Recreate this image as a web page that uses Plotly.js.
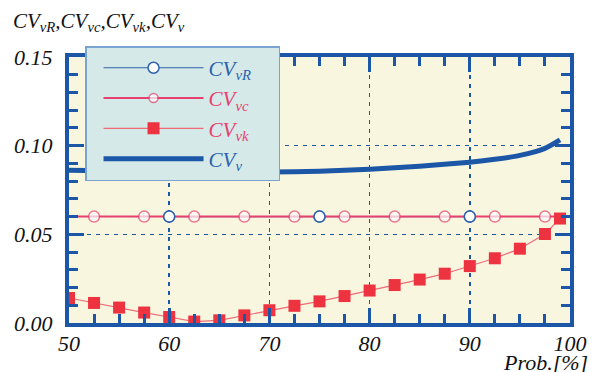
<!DOCTYPE html>
<html><head><meta charset="utf-8">
<script src="https://cdn.plot.ly/plotly-3.0.1.min.js"></script>
<style>
html,body{margin:0;padding:0;background:#fff}
#chart{width:593px;height:372px}
#chart svg text{font-family:"Liberation Serif",serif !important;}
</style>
</head><body>
<div id="chart"></div>
<script>
// ---- data ----
const probVR = [60, 75, 90];
const cvVR = [0.06, 0.06, 0.06];
const probVC = [50, 52.5, 57.5, 62.5, 67.5, 72.5, 77.5, 82.5, 87.5, 92.5, 97.5, 100];
const cvVC = [0.06, 0.06, 0.06, 0.06, 0.06, 0.06, 0.06, 0.06, 0.06, 0.06, 0.06, 0.06];
const probVK = [50, 52.5, 55, 57.5, 60, 62.5, 65, 67.5, 70, 72.5, 75, 77.5, 80, 82.5, 85, 87.5, 90, 92.5, 95, 97.5, 99];
const cvVK = [0.0141, 0.0113, 0.0087, 0.0059, 0.0034, 0.0008, 0.0015, 0.0043, 0.0072, 0.0097, 0.0122, 0.0152, 0.0183, 0.0214, 0.0245, 0.0278, 0.0321, 0.0365, 0.0419, 0.0502, 0.0589];
const probV = [50, 55, 60, 65, 70, 75, 80, 85, 90, 92.5, 95, 97.5, 99];
const cvV = [0.0861, 0.0857, 0.0853, 0.0851, 0.0851, 0.0856, 0.0867, 0.0884, 0.0907, 0.0923, 0.0945, 0.0985, 0.1033];
const xTicks = [50, 60, 70, 80, 90, 100];
const yTicks = [0.00, 0.05, 0.10, 0.15];
const seriesNames = ['CV<sub>vR</sub>', 'CV<sub>vc</sub>', 'CV<sub>vk</sub>', 'CV<sub>v</sub>'];

const BLUE = '#1b57a6';
const PINK = '#e8406e';
const RED = '#ee3340';
const SERIF = 'Liberation Serif';
const PAD = '<span style="font-size:30px">&nbsp;&nbsp;&nbsp;</span>';
const it = s => '<i>' + s + '</i>';

// marker only at interior points of the vc line
const vcSizes = probVC.map((p, i) => (i === 0 || i === probVC.length - 1) ? 0 : 11);

const traces = [
  {x: probVR, y: cvVR, mode: 'lines+markers', name: '<span style="color:#2e62ad">' + it(seriesNames[0]) + '</span>' + PAD,
   line: {color: '#2e62ad', width: 1.2},
   marker: {symbol: 'circle', size: 11, color: '#ffffff', line: {color: '#2e62ad', width: 1.5}}},
  {x: probVC, y: cvVC, mode: 'lines+markers', name: '<span style="color:' + PINK + '">' + it(seriesNames[1]) + '</span>' + PAD,
   line: {color: PINK, width: 2},
   marker: {symbol: 'circle', size: vcSizes, color: '#ffffff', line: {color: PINK, width: 1.5}}},
  {x: probVK, y: cvVK, mode: 'lines+markers', name: '<span style="color:' + PINK + '">' + it(seriesNames[2]) + '</span>' + PAD,
   line: {color: '#f06a78', width: 1.2},
   marker: {symbol: 'square', size: 12, color: RED, line: {width: 0}}},
  {x: probV, y: cvV, mode: 'lines', name: '<span style="color:#2e62ad">' + it(seriesNames[3]) + '</span>' + PAD,
   line: {color: BLUE, width: 5, shape: 'spline', smoothing: 0.6}},
  {x: probVR, y: cvVR, mode: 'markers', showlegend: false, hoverinfo: 'skip',
   marker: {symbol: 'circle', size: 11, color: '#ffffff', line: {color: '#2e62ad', width: 1.5}}}
];

const axisCommon = {
  showline: true, linecolor: BLUE, linewidth: 4, mirror: 'allticks',
  ticks: 'inside', tickcolor: BLUE, tickwidth: 3, ticklen: 15,
  showgrid: true, gridcolor: BLUE, gridwidth: 1.5, griddash: '4px,5px',
  zeroline: false,
  tickfont: {family: SERIF, size: 22, color: '#111'}
};

const layout = {
  width: 593, height: 372,
  margin: {l: 69, r: 23, t: 57, b: 49},
  paper_bgcolor: '#ffffff', plot_bgcolor: '#f8f6de',
  showlegend: true,
  font: {family: SERIF},
  xaxis: Object.assign({}, axisCommon, {
    range: [50, 100], tickmode: 'array', tickvals: xTicks, ticktext: xTicks.map(v => it(String(v))),
    minor: {dtick: 2.5, ticks: 'inside', ticklen: 9, tickwidth: 3, tickcolor: BLUE, showgrid: false},
    ticklabelstandoff: -2
  }),
  yaxis: Object.assign({}, axisCommon, {
    range: [0, 0.15], tickmode: 'array', tickvals: yTicks, ticktext: yTicks.map(v => it(v.toFixed(2))),
    minor: {dtick: 0.01, ticks: 'inside', ticklen: 9, tickwidth: 3, tickcolor: BLUE, showgrid: false},
    ticklabelstandoff: 8
  }),
  legend: {
    x: 0.032, y: 1.041, xanchor: 'left', yanchor: 'top',
    bgcolor: '#d5e9e8', bordercolor: '#7aa3cf', borderwidth: 1.5,
    font: {family: SERIF, size: 21},
    itemwidth: 100, indentation: 12
  },
  annotations: [
    {xref: 'paper', yref: 'paper', x: -0.116, y: 1.13, xanchor: 'left', yanchor: 'middle', showarrow: false,
     text: it('CV<sub>vR</sub>,CV<sub>vc</sub>,CV<sub>vk</sub>,CV<sub>v</sub>'),
     font: {family: SERIF, size: 21, color: '#111'}},
    {xref: 'paper', yref: 'paper', x: 1.04, y: -0.15, xanchor: 'right', yanchor: 'middle', showarrow: false,
     text: it('Prob.[%]'), font: {family: SERIF, size: 22, color: '#111'}}
  ]
};

Plotly.newPlot('chart', traces, layout, {displayModeBar: false, staticPlot: true});
</script>
</body></html>
